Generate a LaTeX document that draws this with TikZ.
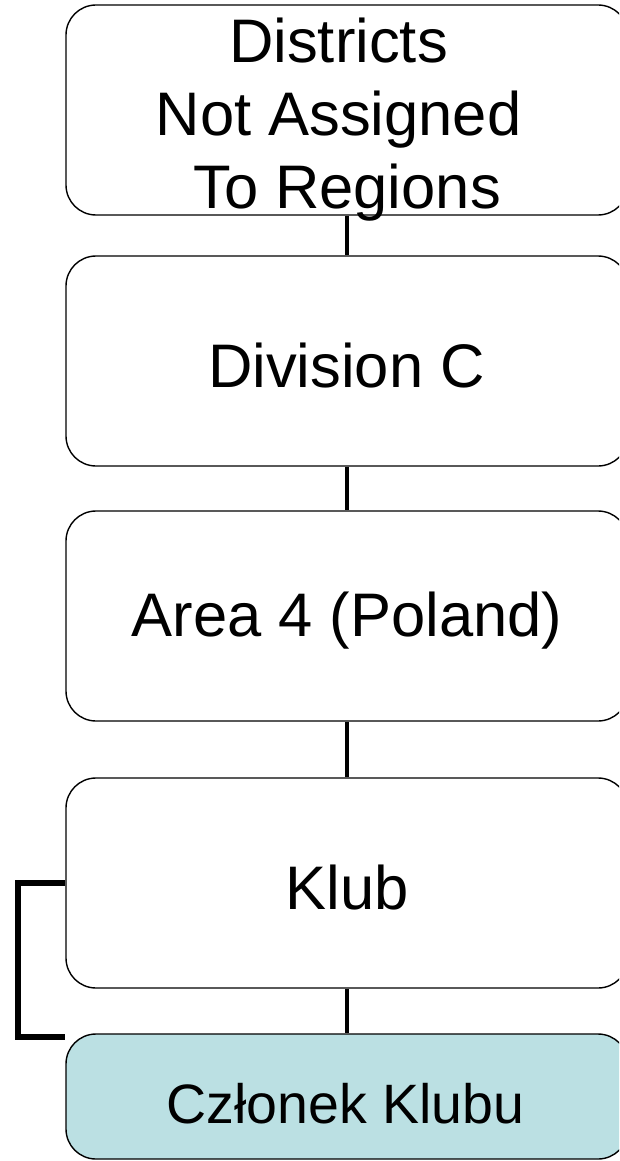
\documentclass[tikz,border=0pt]{standalone}
\usepackage{fontspec}
\setmainfont{Liberation Sans}
\definecolor{boxfill}{HTML}{BBE0E3}
\begin{document}
\begin{tikzpicture}[x=1pt,y=-1pt,
  box/.style={draw=black, line width=1.4pt, rounded corners=30pt, fill=white,
    minimum width=562pt, minimum height=210pt, inner sep=0pt, align=center},
  label/.style={font=\fontsize{61.5}{73}\selectfont, inner sep=0pt},
  link/.style={draw=black, line width=4pt},
  bracket/.style={draw=black, line width=6pt}]
\useasboundingbox (0,0) rectangle (619,1161);
\begin{scope}
\clip (0,0) rectangle (619,1161);
\node[box] (b1) at (347,110) {};
\node[box] (b2) at (347,361) {};
\node[box] (b3) at (347,616) {};
\node[box] (b4) at (347,883) {};
\node[box, fill=boxfill, minimum height=125pt] (b5) at (347,1096.5) {};
\draw[link] (b1.south) -- (b2.north);
\draw[link] (b2.south) -- (b3.north);
\draw[link] (b3.south) -- (b4.north);
\draw[link] (b4.south) -- (b5.north);
\coordinate (bend) at (18,1037);
\draw[bracket] (b4.west) -| (bend) -- (b5.west |- bend);
\node[label, align=center] (t1) at (338.5,120) {Districts\\Not Assigned\\\ To Regions};
\node[label] (t2) at (346.5,366) {Division C};
\node[label] (t3) at (347,621) {Area 4 (Poland)};
\node[label] (t4) at (347,888) {Klub};
\node[label, font=\fontsize{55.5}{66}\selectfont] (t5) at (345.5,1104) {Członek Klubu};
\end{scope}
\end{tikzpicture}
\end{document}
